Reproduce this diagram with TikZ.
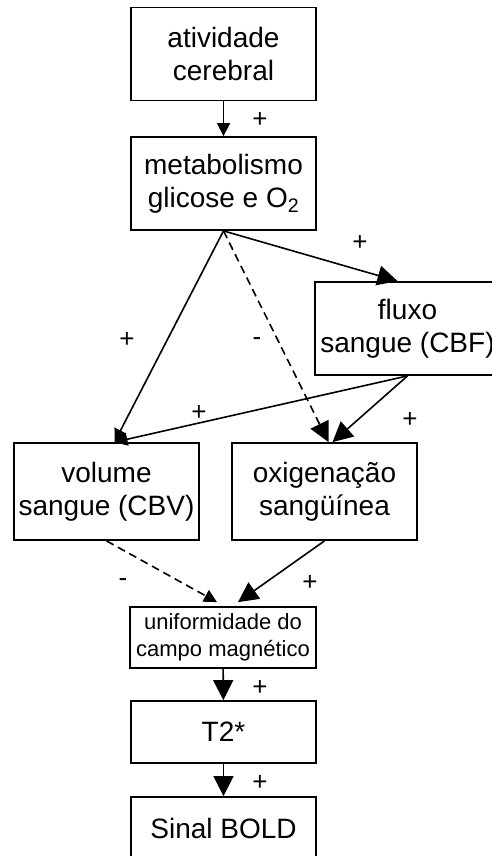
\documentclass[tikz,border=0pt]{standalone}
\usepackage{fontspec}
\setmainfont{Liberation Sans}
\usetikzlibrary{arrows.meta}

\tikzset{
  caixa/.style={draw, line width=1.8pt, minimum width=185pt, minimum height=93pt,
    inner sep=0pt, align=center, font=\fontsize{28}{33}\selectfont},
  seta/.style={line width=1.6pt, -{Triangle[length=20pt,width=20pt]}},
  setapequena/.style={line width=1.6pt, -{Triangle[length=13pt,width=13pt]}},
  tracejada/.style={dash pattern=on 8pt off 5pt},
  sinal/.style={inner sep=0pt, font=\fontsize{26}{26}\selectfont},
}

\begin{document}
\begin{tikzpicture}[x=1pt,y=-1pt]
  \useasboundingbox (0,0) rectangle (492,856);
  % caixas
  \node[caixa] (atividade) at (223.5,54) {atividade\\cerebral};
  \node[caixa] (metabolismo) at (223.5,183.5) {metabolismo\\glicose e O\textsubscript{2}};
  \node[caixa] (fluxo) at (407.5,328.5) {fluxo\\sangue (CBF)};
  \node[caixa, minimum height=97pt] (volume) at (106.5,491.5) {volume\\sangue (CBV)};
  \node[caixa, minimum height=97pt] (oxigenacao) at (324.5,491.5) {oxigenação\\sangüínea};
  \node[caixa, minimum width=186pt, minimum height=61pt, font=\fontsize{22}{27}\selectfont]
    (uniformidade) at (223,637.5) {uniformidade do\\campo magnético};
  \node[caixa, minimum height=62pt] (tdois) at (223.5,732) {T2*};
  \node[caixa, minimum height=62pt] (bold) at (223.5,828) {Sinal BOLD};
  % setas
  \draw[setapequena] (atividade) -- (metabolismo);
  \draw[seta] (metabolismo.south) -- ([xshift=-10pt]fluxo.north);
  \draw[setapequena] (metabolismo.south) -- ([xshift=8pt]volume.north);
  \draw[seta, tracejada] (metabolismo.south) -- ([xshift=4pt]oxigenacao.north);
  \draw[setapequena] (fluxo.south) -- ([xshift=8pt]volume.north);
  \draw[seta] (fluxo.south) -- ([xshift=8pt]oxigenacao.north);
  \draw[setapequena, tracejada] (volume.south) -- ([xshift=-6pt,yshift=4pt]uniformidade.north);
  \draw[seta] (oxigenacao.south) -- ([xshift=15pt,yshift=4pt]uniformidade.north);
  \draw[seta] (uniformidade) -- (tdois);
  \draw[seta] (tdois) -- (bold);
  % sinais
  \node[sinal] (s1) at (260,120) {+};
  \node[sinal] (s2) at (360,243) {+};
  \node[sinal] (s3) at (127,340) {+};
  \node[sinal] (s4) at (257,342) {-};
  \node[sinal] (s5) at (199,413) {+};
  \node[sinal] (s6) at (410,420) {+};
  \node[sinal] (s7) at (123,583) {-};
  \node[sinal] (s8) at (310,583) {+};
  \node[sinal] (s9) at (260,688) {+};
  \node[sinal] (s10) at (260,783) {+};
\end{tikzpicture}
\end{document}
